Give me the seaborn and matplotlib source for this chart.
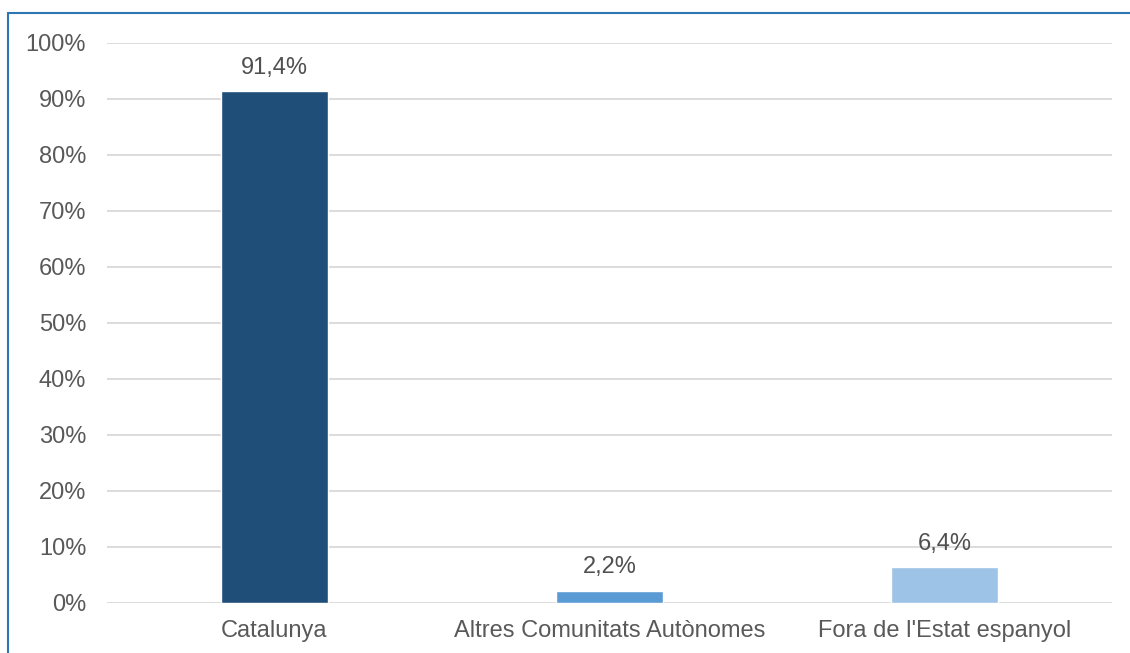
import matplotlib
matplotlib.use("Agg")
import matplotlib.pyplot as plt
from matplotlib.lines import Line2D
import seaborn as sns
import pandas as pd

# data
categories = ["Catalunya", "Altres Comunitats Autònomes", "Fora de l'Estat espanyol"]
values = [91.4, 2.2, 6.4]
labels = ["91,4%", "2,2%", "6,4%"]
colors = ["#1F4E79", "#5B9BD5", "#9DC3E6"]
yticks = [0, 10, 20, 30, 40, 50, 60, 70, 80, 90, 100]

sns.set_style("white")
plt.rcParams["font.family"] = ["Liberation Sans", "DejaVu Sans"]

df = pd.DataFrame({"cat": categories, "val": values})

fig = plt.figure(figsize=(11.3, 6.53), dpi=100)
ax = fig.add_axes([0.0947, 0.0766, 0.8893, 0.8576])

sns.barplot(data=df, x="cat", y="val", hue="cat", palette=colors,
            width=0.32, legend=False, ax=ax, saturation=1)

for p, lab in zip(ax.patches, labels):
    ax.annotate(lab, (p.get_x() + p.get_width() / 2, p.get_height()),
                xytext=(0, 9), textcoords="offset points",
                ha="center", va="bottom", fontsize=17, color="#505050")

ax.set_ylim(0, 100)
ax.set_xlim(-0.5, 2.5)
ax.set_yticks(yticks)
ax.set_yticklabels([f"{t}%" for t in yticks])
ax.yaxis.grid(True, color="#D9D9D9", linewidth=1.3)
ax.set_axisbelow(True)
for s in ax.spines.values():
    s.set_visible(False)
ax.tick_params(axis="both", length=0, labelsize=17, labelcolor="#595959")
ax.tick_params(axis="y", pad=15)
ax.tick_params(axis="x", pad=12)
ax.set_xlabel("")
ax.set_ylabel("")

# outer frame (left and top edges)
fig.add_artist(Line2D([8 / 1130, 8 / 1130], [0, 1 - 13 / 653],
                      transform=fig.transFigure, color="#2E75B6", linewidth=1.5))
fig.add_artist(Line2D([8 / 1130, 1], [1 - 13 / 653, 1 - 13 / 653],
                      transform=fig.transFigure, color="#2E75B6", linewidth=1.5))

fig.savefig("out.png", dpi=100)
